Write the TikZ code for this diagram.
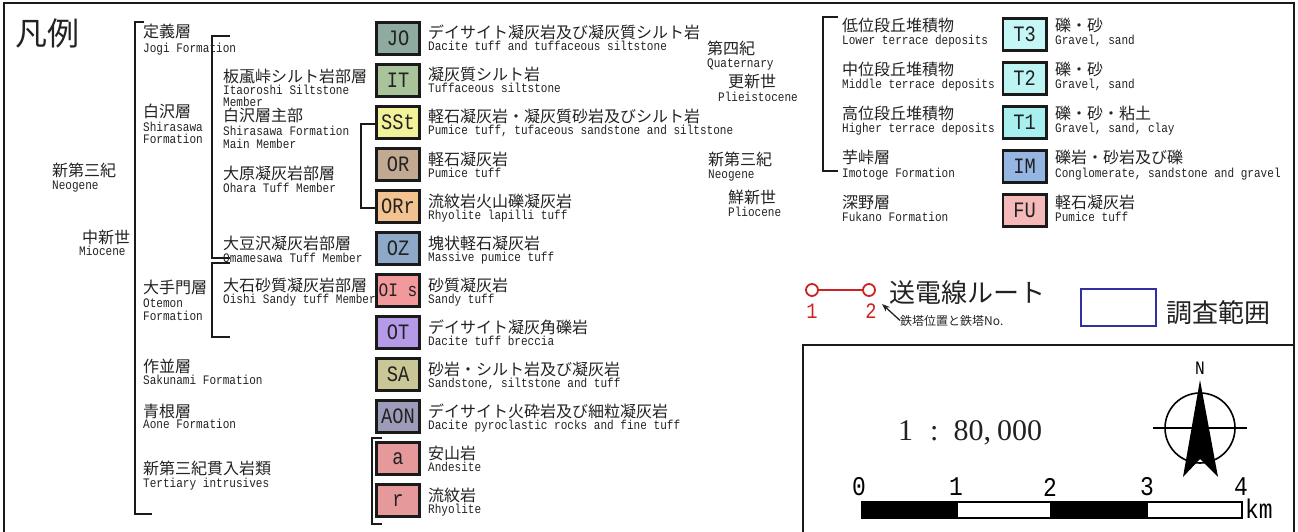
\documentclass[tikz,border=0pt]{standalone}
\usepackage{fontspec}
\newfontfamily\jpf{Noto Sans CJK JP}
\newfontfamily\enf[FakeStretch=0.85]{Liberation Mono}
\newfontfamily\srf{Liberation Serif}
\usetikzlibrary{arrows.meta}
\definecolor{txt}{HTML}{222222}
\definecolor{boxline}{HTML}{1A1A1A}
\definecolor{cJO}{HTML}{8FAA9F}
\definecolor{cIT}{HTML}{A9C49B}
\definecolor{cSSt}{HTML}{F2F29B}
\definecolor{cOR}{HTML}{C2A992}
\definecolor{cORr}{HTML}{F2C291}
\definecolor{cOZ}{HTML}{8EA9C8}
\definecolor{cOIs}{HTML}{F2999B}
\definecolor{cOT}{HTML}{B59AE8}
\definecolor{cSA}{HTML}{C9C795}
\definecolor{cAON}{HTML}{9C9CBA}
\definecolor{cAR}{HTML}{E6999B}
\definecolor{cT3}{HTML}{C6F7F7}
\definecolor{cT2}{HTML}{BDF5F5}
\definecolor{cT1}{HTML}{A8F0F0}
\definecolor{cIM}{HTML}{95B5E2}
\definecolor{cFU}{HTML}{F5B9B9}
\definecolor{routered}{HTML}{CC2222}
\definecolor{areablue}{HTML}{3030A0}
\begin{document}
\begin{tikzpicture}[x=1pt,y=-1pt,
  jp/.style={font=\jpf\fontsize{16}{16}\selectfont, inner sep=0, anchor=base west, text=txt},
  en/.style={font=\enf\fontsize{13}{13}\selectfont, inner sep=0, anchor=base west, text=txt},
  unit/.style={draw=boxline, line width=2.6pt, minimum width=43.4pt, minimum height=32.4pt, inner sep=0, font=\enf\fontsize{22}{22}\selectfont, text=txt},
  brk/.style={line width=2.4pt, draw=boxline, line join=miter},
  frame/.style={line width=2.6pt, draw=boxline},
  scl/.style={font=\enf\fontsize{27}{27}\selectfont, inner sep=0, text=black}]
\useasboundingbox (0,0) rectangle (1298,532);
% outer frame
\draw[frame] (4,533) -- (4,3) -- (1294,3) -- (1294,533);
% title
\node[font=\jpf\fontsize{32}{32}\selectfont, inner sep=0, anchor=base west, text=txt] (title) at (15,46) {凡例};

% brackets
\draw[brk] (144,22) -- (135,22) -- (135,514) -- (152,514);
\draw[brk] (230,36) -- (212,36) -- (212,258) -- (230,258);
\draw[brk] (230,263) -- (212,263) -- (212,337) -- (230,337);
\draw[brk] (375,124) -- (361,124) -- (361,208) -- (375,208);
\draw[brk] (382,438) -- (372,438) -- (372,524) -- (382,524);
\draw[brk] (838,17) -- (823,17) -- (823,171) -- (838,171);

% hierarchy texts
\node[jp] (h1j) at (52,176) {新第三紀};
\node[en] (h1e) at (52,189.5) {Neogene};
\node[jp] (h2j) at (82,243) {中新世};
\node[en] (h2e) at (79,255.5) {Miocene};

\node[jp] (jogij) at (143,38) {定義層};
\node[en] (jogie) at (143,52.5) {Jogi Formation};
\node[jp] (shiraj) at (143,118) {白沢層};
\node[en] (shirae1) at (143,131.5) {Shirasawa};
\node[en] (shirae2) at (143,143.5) {Formation};
\node[jp] (otej) at (143,293) {大手門層};
\node[en] (otee1) at (143,307.5) {Otemon};
\node[en] (otee2) at (143,320.5) {Formation};
\node[jp] (sakuj) at (143,372) {作並層};
\node[en] (sakue) at (143,384.5) {Sakunami Formation};
\node[jp] (aonej) at (143,417) {青根層};
\node[en] (aonee) at (143,428.5) {Aone Formation};
\node[jp] (intj) at (143,474) {新第三紀貫入岩類};
\node[en] (inte) at (143,487.5) {Tertiary intrusives};

\node[jp] (itaj) at (223,83) {板颪峠シルト岩部層};
\node[en] (itae1) at (223,94.5) {Itaoroshi Siltstone};
\node[en] (itae2) at (223,106.5) {Member};
\node[jp] (mainj) at (223,122) {白沢層主部};
\node[en] (maine1) at (223,135.5) {Shirasawa Formation};
\node[en] (maine2) at (223,148.5) {Main Member};
\node[jp] (oharaj) at (223,179) {大原凝灰岩部層};
\node[en] (oharae) at (223,192.5) {Ohara Tuff Member};
\node[jp] (omaj) at (223,249) {大豆沢凝灰岩部層};
\node[en] (omae) at (223,262.5) {Omamesawa Tuff Member};
\node[jp] (oishij) at (223,291) {大石砂質凝灰岩部層};
\node[en] (oishie) at (223,303.5) {Oishi Sandy tuff Member};

% left unit boxes
\node[unit, fill=cJO] (JO) at (398,38.5) {JO};
\node[unit, fill=cIT] (IT) at (398,80.5) {IT};
\node[unit, fill=cSSt] (SSt) at (398,122.5) {SSt};
\node[unit, fill=cOR] (OR) at (398,164.5) {OR};
\node[unit, fill=cORr] (ORr) at (398,206.5) {ORr};
\node[unit, fill=cOZ] (OZ) at (398,248.5) {OZ};
\node[unit, fill=cOIs, font=\enf\fontsize{19}{19}\selectfont] (OIs) at (398,290.5) {OI s};
\node[unit, fill=cOT] (OT) at (398,332.5) {OT};
\node[unit, fill=cSA] (SA) at (398,374.5) {SA};
\node[unit, fill=cAON] (AON) at (398,416.5) {AON};
\node[unit, fill=cAR] (ua) at (398,458.5) {a};
\node[unit, fill=cAR] (ur) at (398,500.5) {r};

% left descriptions
\node[jp] (d1j) at (428,39) {デイサイト凝灰岩及び凝灰質シルト岩};
\node[en] (d1e) at (428,51) {Dacite tuff and tuffaceous siltstone};
\node[jp] (d2j) at (428,81) {凝灰質シルト岩};
\node[en] (d2e) at (428,93) {Tuffaceous siltstone};
\node[jp] (d3j) at (428,123) {軽石凝灰岩・凝灰質砂岩及びシルト岩};
\node[en] (d3e) at (428,135) {Pumice tuff, tufaceous sandstone and siltstone};
\node[jp] (d4j) at (428,165) {軽石凝灰岩};
\node[en] (d4e) at (428,177) {Pumice tuff};
\node[jp] (d5j) at (428,207) {流紋岩火山礫凝灰岩};
\node[en] (d5e) at (428,219) {Rhyolite lapilli tuff};
\node[jp] (d6j) at (428,249) {塊状軽石凝灰岩};
\node[en] (d6e) at (428,261) {Massive pumice tuff};
\node[jp] (d7j) at (428,291) {砂質凝灰岩};
\node[en] (d7e) at (428,303) {Sandy tuff};
\node[jp] (d8j) at (428,333) {デイサイト凝灰角礫岩};
\node[en] (d8e) at (428,345) {Dacite tuff breccia};
\node[jp] (d9j) at (428,375) {砂岩・シルト岩及び凝灰岩};
\node[en] (d9e) at (428,387) {Sandstone, siltstone and tuff};
\node[jp] (d10j) at (428,417) {デイサイト火砕岩及び細粒凝灰岩};
\node[en] (d10e) at (428,429) {Dacite pyroclastic rocks and fine tuff};
\node[jp] (d11j) at (428,459) {安山岩};
\node[en] (d11e) at (428,471) {Andesite};
\node[jp] (d12j) at (428,501) {流紋岩};
\node[en] (d12e) at (428,513) {Rhyolite};

% era labels middle
\node[jp] (quj) at (707,55) {第四紀};
\node[en] (que) at (707,68) {Quaternary};
\node[jp] (plej) at (728,88) {更新世};
\node[en] (plee) at (718,102) {Plieistocene};
\node[jp] (neoj) at (708,165) {新第三紀};
\node[en] (neoe) at (708,178.5) {Neogene};
\node[jp] (plij) at (728,203) {鮮新世};
\node[en] (plie) at (728,216.5) {Pliocene};

% right column
\node[jp] (r1j) at (842,32) {低位段丘堆積物};
\node[en] (r1e) at (842,45) {Lower terrace deposits};
\node[jp] (r2j) at (842,76) {中位段丘堆積物};
\node[en] (r2e) at (842,89) {Middle terrace deposits};
\node[jp] (r3j) at (842,120) {高位段丘堆積物};
\node[en] (r3e) at (842,133) {Higher terrace deposits};
\node[jp] (r4j) at (842,164) {芋峠層};
\node[en] (r4e) at (842,177) {Imotoge Formation};
\node[jp] (r5j) at (842,208) {深野層};
\node[en] (r5e) at (842,221) {Fukano Formation};

\node[unit, fill=cT3] (T3) at (1024.5,34.5) {T3};
\node[unit, fill=cT2] (T2) at (1024.5,78.5) {T2};
\node[unit, fill=cT1] (T1) at (1024.5,122.5) {T1};
\node[unit, fill=cIM] (IM) at (1024.5,166.5) {IM};
\node[unit, fill=cFU] (FU) at (1024.5,210.5) {FU};

\node[jp] (s1j) at (1055,32) {礫・砂};
\node[en] (s1e) at (1055,45) {Gravel, sand};
\node[jp] (s2j) at (1055,76) {礫・砂};
\node[en] (s2e) at (1055,89) {Gravel, sand};
\node[jp] (s3j) at (1055,120) {礫・砂・粘土};
\node[en] (s3e) at (1055,133) {Gravel, sand, clay};
\node[jp] (s4j) at (1055,164) {礫岩・砂岩及び礫};
\node[en] (s4e) at (1055,177) {Conglomerate, sandstone and gravel};
\node[jp] (s5j) at (1055,208) {軽石凝灰岩};
\node[en] (s5e) at (1055,221) {Pumice tuff};

% route legend
\node[circle, draw=routered, line width=1.8pt, minimum size=12pt, inner sep=0] (tw1) at (812,290) {};
\node[circle, draw=routered, line width=1.8pt, minimum size=12pt, inner sep=0] (tw2) at (869,290) {};
\draw[routered, line width=1.6pt] (tw1) -- (tw2);
\node[font=\enf\fontsize{22}{22}\selectfont, text=routered, inner sep=0] (n1) at (812,311) {1};
\node[font=\enf\fontsize{22}{22}\selectfont, text=routered, inner sep=0] (n2) at (871,311) {2};
\node[font=\jpf\fontsize{26}{26}\selectfont, inner sep=0, anchor=base west, text=txt] (route) at (889,302) {送電線ルート};
\node[font=\jpf\fontsize{12}{12}\selectfont, inner sep=0, anchor=base west, text=txt] (note) at (900,325) {鉄塔位置と鉄塔No.};
\coordinate (tip) at (882,304);
\draw[-{Stealth[length=8pt,width=6pt]}, line width=1.3pt, txt] (note.west) -- (tip);

% survey area legend
\node[draw=areablue, line width=2pt, minimum width=75pt, minimum height=37pt, inner sep=0] (area) at (1118.5,307.5) {};
\node[font=\jpf\fontsize{26}{26}\selectfont, inner sep=0, anchor=base west, text=txt] (arealbl) at (1166,322) {調査範囲};

% scale box
\draw[frame] (803,533) -- (803,345) -- (1294,345);
\node[font=\srf\fontsize{30}{30}\selectfont, inner sep=0, anchor=base west, text=txt] (ratio) at (898,440) {1\hspace{17pt}:\hspace{15pt}80,\hspace{6pt}000};

% compass
\node[circle, draw=black, line width=1.6pt, minimum size=70pt, inner sep=0] (cmp) at (1200,428) {};
\draw[line width=1.5pt] (1153,428) -- (1247,428);
\fill[black] (1200,380) -- (1218,477) -- (1200,459) -- (1183,477) -- cycle;
\node[font=\enf\fontsize{19}{19}\selectfont, inner sep=0] (north) at (1200,368) {N};

% scale bar
\draw[line width=1.4pt, fill=white] (862,502) rectangle (1242,518);
\fill[black] (862,502) rectangle (958,518);
\fill[black] (1050,502) rectangle (1148,518);
\node[scl] (k0) at (859,487) {0};
\node[scl] (k1) at (956,487) {1};
\node[scl] (k2) at (1050,487) {2};
\node[scl] (k3) at (1147,487) {3};
\node[scl] (k4) at (1241,487) {4};
\node[scl, anchor=base west] (km) at (1245,518) {km};
\end{tikzpicture}
\end{document}
